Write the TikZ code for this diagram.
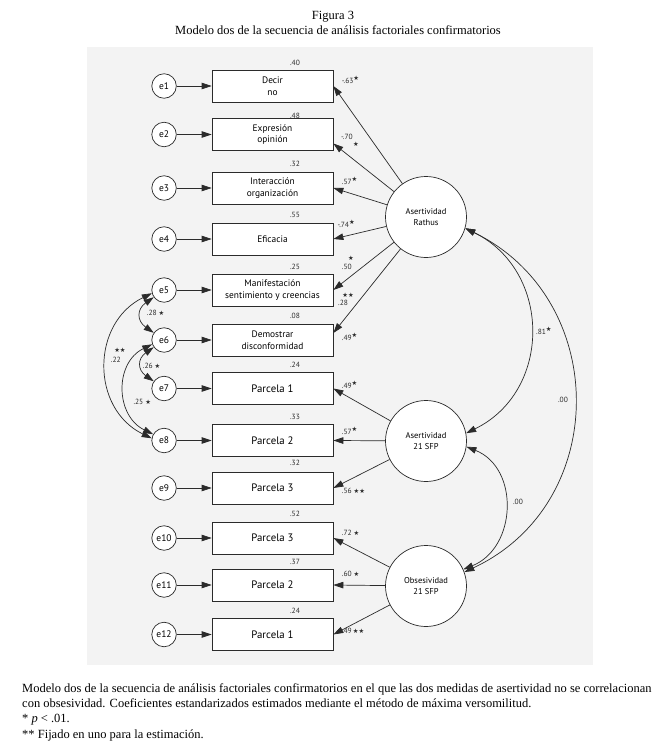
\documentclass[tikz,border=0pt]{standalone}
\usepackage{fontspec}
\setmainfont{Liberation Serif}
\newfontfamily\diagfont{PT Sans}
\newfontfamily\starfont{DejaVu Sans}
\usetikzlibrary{arrows.meta, positioning}
\definecolor{panel}{HTML}{F3F3F3}
\definecolor{ink}{HTML}{2B2B2B}
\newcommand{\sstar}{{\starfont\fontsize{6.3}{6}\selectfont ★}}
\newcommand{\upstar}{\raisebox{0.75ex}{\sstar}}

\begin{document}
\begin{tikzpicture}[
        x=1pt, y=1pt,
        item/.style = {rectangle, draw=ink, fill=white, line width=0.7pt, minimum width=121pt, minimum height=32pt, align=center, inner sep=1pt, font=\diagfont\fontsize{9.4}{11.5}\selectfont},
        parcel/.style = {item, font=\diagfont\fontsize{10.8}{12}\selectfont},
        err/.style = {circle, draw=ink, fill=white, line width=0.7pt, minimum size=24.5pt, inner sep=0pt, font=\diagfont\fontsize{9.5}{10}\selectfont},
        factor/.style = {circle, draw=ink, fill=white, line width=0.7pt, minimum size=81pt, inner sep=0pt, align=center, font=\diagfont\fontsize{8.5}{11}\selectfont},
        load/.style = {-{Triangle[length=10pt, width=6.5pt]}, draw=ink, line width=0.7pt},
        cov/.style = {{Triangle[length=10pt, width=6.5pt]}-{Triangle[length=10pt, width=6.5pt]}, draw=ink, line width=0.7pt},
        coef/.style = {inner sep=0pt, text=ink, font=\diagfont\fontsize{7.5}{8}\selectfont},
        capline/.style = {anchor=base west, inner sep=0pt, font=\fontsize{12.5}{14}\selectfont},
        titleline/.style = {anchor=base, inner sep=0pt, font=\fontsize{12.5}{14}\selectfont}
    ]
    \useasboundingbox (0,0) rectangle (666,-749);
    \fill[panel] (87,-47) rectangle (593,-665);

    % titulo
    \node[titleline] (fig) at (333,-20) {Figura 3};
    \node[titleline] (figtitle) at (338,-35) {Modelo dos de la secuencia de análisis factoriales confirmatorios};

    % indicadores
    \node[item] (b1) at (272.5,-86) {Decir\\no};
    \node[item] (b2) at (272.5,-134.5) {Expresión\\opinión};
    \node[item] (b3) at (272.5,-188) {Interacción\\organización};
    \node[item] (b4) at (272.5,-239) {Eficacia};
    \node[item] (b5) at (272.5,-290) {Manifestación\\sentimiento y creencias};
    \node[item] (b6) at (272.5,-340) {Demostrar\\disconformidad};
    \node[parcel] (b7) at (272.5,-388.5) {Parcela 1};
    \node[parcel] (b8) at (272.5,-440.5) {Parcela 2};
    \node[parcel] (b9) at (272.5,-488) {Parcela 3};
    \node[parcel] (b10) at (272.5,-538) {Parcela 3};
    \node[parcel] (b11) at (272.5,-585) {Parcela 2};
    \node[parcel] (b12) at (272.5,-634.5) {Parcela 1};

    % errores
    \node[err, left=35pt of b1] (e1) {e1};
    \node[err, left=35pt of b2] (e2) {e2};
    \node[err, left=35pt of b3] (e3) {e3};
    \node[err, left=35pt of b4] (e4) {e4};
    \node[err, left=35pt of b5] (e5) {e5};
    \node[err, left=35pt of b6] (e6) {e6};
    \node[err, left=35pt of b7] (e7) {e7};
    \node[err, left=35pt of b8] (e8) {e8};
    \node[err, left=35pt of b9] (e9) {e9};
    \node[err, left=35pt of b10] (e10) {e10};
    \node[err, left=35pt of b11] (e11) {e11};
    \node[err, left=35pt of b12] (e12) {e12};

    % factores
    \node[factor] (rathus) at (426,-217) {Asertividad\\Rathus};
    \node[factor] (sfp) at (426,-441) {Asertividad\\21 SFP};
    \node[factor] (obs) at (426,-586) {Obsesividad\\21 SFP};

    % varianzas explicadas
    \node[coef, anchor=base] (r1) at (295,-65.2) {.40};
    \node[coef, anchor=base] (r2) at (295,-118.2) {.48};
    \node[coef, anchor=base] (r3) at (295,-166.8) {.32};
    \node[coef, anchor=base] (r4) at (295,-217.5) {.55};
    \node[coef, anchor=base] (r5) at (295,-269.2) {.25};
    \node[coef, anchor=base] (r6) at (295,-318.5) {.08};
    \node[coef, anchor=base] (r7) at (295,-367.5) {.24};
    \node[coef, anchor=base] (r8) at (295,-419) {.33};
    \node[coef, anchor=base] (r9) at (295,-465.8) {.32};
    \node[coef, anchor=base] (r10) at (295,-516.5) {.52};
    \node[coef, anchor=base] (r11) at (295,-564.8) {.37};
    \node[coef, anchor=base] (r12) at (295,-613.2) {.24};

    % errores a indicadores
    \draw[load] (e1) -- (b1);
    \draw[load] (e2) -- (b2);
    \draw[load] (e3) -- (b3);
    \draw[load] (e4) -- (b4);
    \draw[load] (e5) -- (b5);
    \draw[load] (e6) -- (b6);
    \draw[load] (e7) -- (b7);
    \draw[load] (e8) -- (b8);
    \draw[load] (e9) -- (b9);
    \draw[load] (e10) -- (b10);
    \draw[load] (e11) -- (b11);
    \draw[load] (e12) -- (b12);

    % cargas factoriales
    \draw[load] (rathus) -- (b1.east);
    \draw[load] (rathus) -- ([yshift=-9pt]b2.east);
    \draw[load] (rathus) -- (b3.east);
    \draw[load] (rathus) -- (b4.east);
    \draw[load] (rathus) -- (b5.east);
    \draw[load] (rathus) -- ([yshift=7pt]b6.east);
    \draw[load] (sfp) -- (b7.east);
    \draw[load] (sfp) -- (b8.east);
    \draw[load] (sfp) -- (b9.east);
    \draw[load] (obs) -- (b10.east);
    \draw[load] (obs) -- (b11.east);
    \draw[load] (obs) -- (b12.east);

    \node[coef, anchor=base west] (k1) at (341.7,-83.5) {-.63\upstar};
    \node[coef, anchor=base west] (k2) at (341,-139.8) {-.70};
    \node[coef] (k2s) at (356,-144) {\sstar};
    \node[coef, anchor=base west] (k3) at (341.7,-184.8) {.57\upstar};
    \node[coef, anchor=base west] (k4) at (337.3,-227.5) {-.74\upstar};
    \node[coef] (k5s) at (351,-258.3) {\sstar};
    \node[coef, anchor=base west] (k5) at (341.7,-269.2) {.50};
    \node[coef] (k6s) at (348,-295) {\sstar\sstar};
    \node[coef, anchor=base west] (k6) at (338,-305.5) {.28};
    \node[coef, anchor=base west] (k7) at (341.7,-340.8) {.49\upstar};
    \node[coef, anchor=base west] (k8) at (341.7,-388.5) {.49\upstar};
    \node[coef, anchor=base west] (k9) at (341.7,-434.2) {.57\upstar};
    \node[coef, anchor=base west] (k10) at (341.7,-493.5) {.56 \sstar\sstar};
    \node[coef, anchor=base west] (k11) at (341.7,-535.2) {.72 \sstar};
    \node[coef, anchor=base west] (k12) at (341.7,-576.8) {.60 \sstar};
    \node[coef, anchor=base west] (k13) at (341.7,-633.5) {.49\,\sstar\sstar};

    % covarianzas de errores
    \draw[cov] (e5.215) to[out=215, in=145, looseness=1.5] (e6.145);
    \draw[cov] (e6.215) to[out=215, in=145, looseness=1.5] (e7.145);
    \draw[cov] (e5.195) to[out=206, in=154, looseness=1.2] (e8.170);
    \draw[cov] (e6.200) to[out=206, in=154, looseness=1.2] (e8.150);

    \node[coef, anchor=base west] (c56) at (146.7,-315.8) {.28 \sstar};
    \node[coef, anchor=base west] (c67) at (142.7,-368.5) {.26 \sstar};
    \node[coef] (c58s) at (120,-350) {\sstar\sstar};
    \node[coef, anchor=base west] (c58) at (110.7,-362.5) {.22};
    \node[coef, anchor=base west] (c68) at (133.3,-404.2) {.25 \sstar};

    % covarianzas de factores
    \draw[cov] (rathus.-16) to[out=-26, in=26, looseness=1.2] (sfp.11);
    \draw[cov] (rathus.-16) to[out=-26, in=25, looseness=1.2] (obs.20);
    \draw[cov] (sfp.-8) to[out=-22, in=22, looseness=1.2] (obs.24);

    \node[coef, anchor=base west] (f12) at (536,-334.5) {.81\upstar};
    \node[coef, anchor=base] (f13) at (563,-402.5) {.00};
    \node[coef, anchor=base] (f23) at (518,-504.5) {.00};

    % nota
    \node[capline] (cap1) at (22,-692) {Modelo dos de la secuencia de análisis factoriales confirmatorios en el que las dos medidas de asertividad no se correlacionan};
    \node[capline] (cap2) at (22,-707) {con obsesividad. Coeficientes estandarizados estimados mediante el método de máxima versomilitud.};
    \node[capline] (cap3) at (22,-722) {* \textit{p} < .01.};
    \node[capline] (cap4) at (22,-738) {** Fijado en uno para la estimación.};
\end{tikzpicture}
\end{document}
